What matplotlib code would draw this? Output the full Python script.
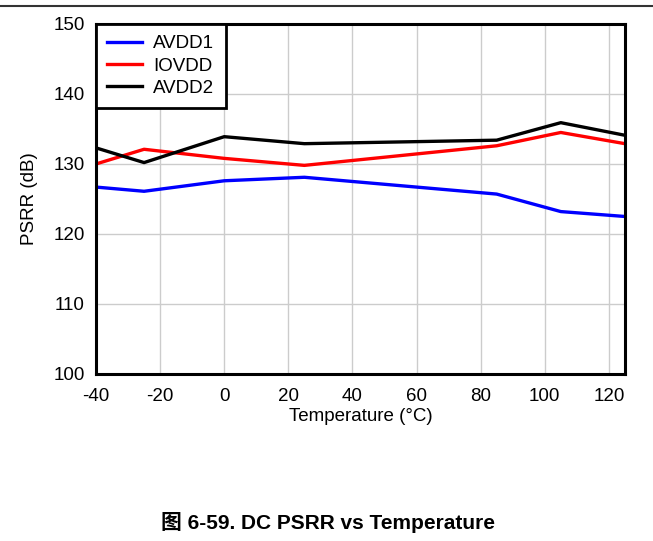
import matplotlib
matplotlib.use("Agg")
import matplotlib.pyplot as plt

# temperature sweep (deg C) and PSRR readings (dB)
temps = [-40, -25, 0, 25, 85, 105, 125]
avdd1 = [126.7, 126.1, 127.6, 128.1, 125.7, 123.2, 122.5]
iovdd = [130.0, 132.1, 130.8, 129.8, 132.6, 134.5, 132.9]
avdd2 = [132.3, 130.2, 133.9, 132.9, 133.4, 135.9, 134.1]

xticks = [-40, -20, 0, 20, 40, 60, 80, 100, 120]
yticks = [100, 110, 120, 130, 140, 150]

plt.rcParams['font.family'] = ['Liberation Sans', 'Noto Sans CJK SC', 'DejaVu Sans']
plt.rcParams['axes.unicode_minus'] = False

fs = 13.5
fig = plt.figure(figsize=(6.53, 5.41), dpi=100)
ax = fig.add_axes([0.147, 0.3087, 0.81, 0.647])

ax.plot(temps, avdd1, color='#0000ff', lw=2.4, label='AVDD1')
ax.plot(temps, iovdd, color='#ff0000', lw=2.4, label='IOVDD')
ax.plot(temps, avdd2, color='#000000', lw=2.4, label='AVDD2')

ax.set_xlim(-40, 125)
ax.set_ylim(100, 150)
ax.set_xticks(xticks)
ax.set_yticks(yticks)
ax.tick_params(axis='x', length=0, labelsize=fs, pad=10)
ax.tick_params(axis='y', length=0, labelsize=fs, pad=8)
ax.grid(True, color='#cccccc', lw=1.0)
ax.set_axisbelow(True)
for s in ax.spines.values():
    s.set_linewidth(2.2)

ax.set_xlabel('Temperature (°C)', fontsize=fs, labelpad=2)
ax.set_ylabel('PSRR (dB)', fontsize=fs, labelpad=11)

leg = ax.legend(loc='upper left', fontsize=fs, frameon=True, fancybox=False,
                framealpha=1, borderaxespad=0, handlelength=1.85,
                labelspacing=0.27, borderpad=0.6, handletextpad=0.6)
leg.get_frame().set_edgecolor('black')
leg.get_frame().set_linewidth(2.0)

# rule across the top of the page
fig.add_artist(plt.Line2D([0, 1], [0.989, 0.989], color='#333333', lw=1.5,
                          transform=fig.transFigure))

fig.text(0.502, 0.035, '图 6-59. DC PSRR vs Temperature', ha='center',
         va='center', fontsize=15, fontweight='bold')

fig.savefig('out.png', dpi=100)
